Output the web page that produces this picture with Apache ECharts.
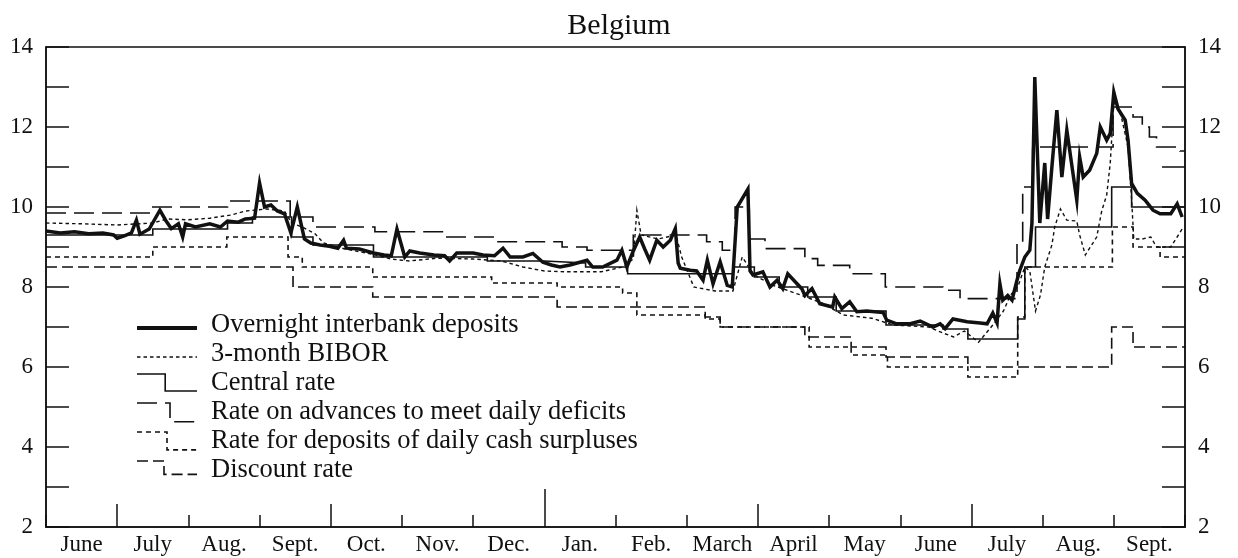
<!DOCTYPE html>
<html>
<head>
<meta charset="utf-8">
<script src="https://cdn.jsdelivr.net/npm/echarts@6/dist/echarts.min.js"></script>
<style>
  html, body { margin: 0; padding: 0; background: #fff; }
  #chart { width: 1238px; height: 558px; }
</style>
</head>
<body>
<div id="chart"></div>
<script>
// Month labels, June 1992 to September 1993
const months = ['June', 'July', 'Aug.', 'Sept.', 'Oct.', 'Nov.', 'Dec.', 'Jan.', 'Feb.', 'March', 'April', 'May', 'June', 'July', 'Aug.', 'Sept.'];
// Month boundaries that get longer ticks (quarters) and the year boundary
const quarterTicks = [1, 4, 10, 13];
const yearTicks = [7];

// Every x value below is months elapsed since 1 June 1992; y values are percent.
const overnight = [
  [0, 9.4], [0.2, 9.35], [0.4, 9.38], [0.6, 9.33], [0.8, 9.35], [0.95, 9.3], [1.0, 9.22], [1.1, 9.28],
  [1.2, 9.35], [1.27, 9.67], [1.32, 9.32], [1.45, 9.45], [1.6, 9.92], [1.68, 9.67], [1.76, 9.46],
  [1.86, 9.58], [1.92, 9.25], [1.96, 9.58], [2.1, 9.5], [2.3, 9.58], [2.45, 9.5], [2.55, 9.65],
  [2.7, 9.62], [2.8, 9.7], [2.93, 9.72], [3.0, 10.6], [3.07, 10.0], [3.16, 10.05], [3.25, 9.9],
  [3.35, 9.83], [3.44, 9.35], [3.53, 10.0], [3.63, 9.2], [3.72, 9.1], [3.85, 9.05], [3.98, 9.02],
  [4.1, 8.97], [4.18, 9.17], [4.22, 8.97], [4.4, 8.95], [4.6, 8.85], [4.75, 8.8], [4.85, 8.78],
  [4.93, 9.45], [5.04, 8.75], [5.11, 8.9], [5.25, 8.85], [5.45, 8.8], [5.6, 8.78], [5.67, 8.65],
  [5.77, 8.85], [6.0, 8.85], [6.14, 8.8], [6.3, 8.78], [6.42, 8.97], [6.52, 8.75], [6.7, 8.75],
  [6.84, 8.84], [6.98, 8.62], [7.1, 8.55], [7.22, 8.5], [7.36, 8.55], [7.6, 8.67], [7.68, 8.5],
  [7.82, 8.5], [8.02, 8.67], [8.09, 8.92], [8.16, 8.5], [8.25, 8.9], [8.34, 9.25], [8.41, 8.95],
  [8.48, 8.67], [8.58, 9.17], [8.67, 9.0], [8.77, 9.17], [8.84, 9.46], [8.88, 8.6], [8.91, 8.47],
  [9.05, 8.42], [9.14, 8.4], [9.23, 8.17], [9.29, 8.67], [9.37, 8.08], [9.47, 8.63], [9.57, 8.04],
  [9.64, 8.0], [9.71, 10.0], [9.86, 10.45], [9.89, 8.4], [9.93, 8.3], [10.07, 8.38], [10.17, 8.0],
  [10.27, 8.17], [10.35, 7.96], [10.42, 8.33], [10.55, 8.08], [10.62, 7.95], [10.66, 7.79],
  [10.76, 7.96], [10.87, 7.58], [11.05, 7.5], [11.08, 7.75], [11.18, 7.46], [11.29, 7.63],
  [11.39, 7.38], [11.53, 7.4], [11.76, 7.36], [11.81, 7.17], [11.95, 7.08], [12.14, 7.08],
  [12.28, 7.15], [12.46, 7.0], [12.56, 7.08], [12.63, 6.96], [12.74, 7.2], [12.94, 7.13],
  [13.12, 7.1], [13.22, 7.08], [13.3, 7.35], [13.36, 7.1], [13.4, 8.08], [13.44, 7.67], [13.51, 7.79],
  [13.57, 7.67], [13.64, 8.17], [13.68, 8.42], [13.75, 8.75], [13.82, 8.92], [13.85, 9.6],
  [13.89, 13.25], [13.96, 9.6], [14.03, 11.1], [14.07, 9.7], [14.13, 11.0], [14.2, 12.42],
  [14.27, 10.75], [14.34, 11.92], [14.48, 10.17], [14.52, 11.25], [14.57, 10.75], [14.66, 10.92],
  [14.76, 11.34], [14.81, 12.0], [14.9, 11.67], [14.95, 11.84], [15.0, 12.87], [15.06, 12.45],
  [15.16, 12.17], [15.2, 11.67], [15.25, 10.59], [15.33, 10.34], [15.44, 10.17], [15.55, 9.92],
  [15.65, 9.83], [15.8, 9.83], [15.89, 10.08], [15.96, 9.75]
];

const bibor = [
  [0, 9.6], [0.5, 9.58], [1.0, 9.55], [1.5, 9.6], [1.7, 9.7], [2.0, 9.68], [2.3, 9.72], [2.6, 9.8],
  [2.8, 9.9], [3.1, 9.95], [3.35, 9.9], [3.45, 9.6], [3.6, 9.5], [3.78, 9.33], [3.9, 9.1], [4.2, 8.95],
  [4.5, 8.85], [4.85, 8.7], [5.1, 8.65], [5.5, 8.72], [6.0, 8.7], [6.4, 8.65], [6.7, 8.5], [7.0, 8.4],
  [7.3, 8.38], [7.8, 8.38], [8.1, 8.5], [8.25, 8.7], [8.3, 9.92], [8.36, 9.3], [8.6, 9.2], [8.85, 9.3],
  [8.93, 8.75], [9.1, 8.0], [9.4, 7.9], [9.65, 7.9], [9.78, 8.75], [9.95, 8.3], [10.2, 8.05],
  [10.6, 7.8], [10.9, 7.6], [11.2, 7.3], [11.6, 7.22], [11.9, 7.05], [12.4, 7.0], [12.6, 6.85],
  [12.75, 6.75], [12.9, 6.9], [13.1, 6.62], [13.3, 7.05], [13.45, 7.4], [13.55, 7.8], [13.65, 8.0],
  [13.75, 8.5], [13.82, 8.4], [13.9, 7.4], [13.97, 7.8], [14.03, 8.5], [14.13, 9.05], [14.17, 9.5],
  [14.25, 9.95], [14.34, 9.67], [14.48, 9.65], [14.52, 9.3], [14.6, 8.8], [14.76, 9.25], [14.83, 9.9],
  [14.9, 10.3], [14.95, 11.1], [15.0, 12.6], [15.1, 12.3], [15.2, 11.5], [15.25, 10.2], [15.28, 9.2],
  [15.4, 9.2], [15.52, 9.25], [15.6, 9.0], [15.8, 9.0], [15.89, 9.25], [15.96, 9.45]
];

// Official rates: each value holds until the next change
const centralRate = [
  [0, 9.3], [1.5, 9.45], [2.55, 9.6], [2.9, 9.75], [3.45, 9.25], [3.75, 9.05], [4.6, 8.75],
  [6.2, 8.65], [7.0, 8.6], [7.58, 8.5], [8.17, 8.33], [9.65, 8.5], [9.95, 8.25], [10.3, 8.0],
  [10.7, 7.75], [11.1, 7.4], [11.8, 7.05], [12.6, 6.95], [12.95, 6.7], [13.65, 7.2], [13.75, 8.5],
  [13.9, 9.5], [14.97, 10.5], [15.25, 10.0], [16, 10.0]
];

const advancesRate = [
  [0, 9.85], [1.5, 10.0], [2.55, 10.15], [3.43, 9.75], [3.75, 9.5], [4.62, 9.38], [5.6, 9.25],
  [6.3, 9.13], [7.25, 9.0], [7.6, 8.92], [8.25, 9.3], [9.28, 9.13], [9.5, 8.92], [9.68, 10.0],
  [9.88, 9.2], [10.1, 8.96], [10.66, 8.71], [10.84, 8.54], [11.29, 8.33], [11.79, 8.0], [12.6, 7.92],
  [12.84, 7.71], [13.64, 9.1], [13.72, 10.5], [13.86, 11.5], [14.99, 12.5], [15.27, 12.25],
  [15.4, 12.0], [15.5, 11.75], [15.6, 11.5], [15.93, 11.4], [16, 11.4]
];

const depositsRate = [
  [0, 8.75], [1.5, 9.0], [2.54, 9.25], [3.4, 8.75], [3.6, 8.5], [4.59, 8.25], [6.26, 8.1],
  [7.18, 8.0], [8.1, 7.85], [8.3, 7.3], [9.26, 7.2], [9.47, 7.0], [10.72, 6.5], [11.31, 6.3],
  [11.82, 6.0], [12.95, 5.75], [13.65, 7.25], [13.75, 8.5], [14.98, 9.5], [15.27, 9.0],
  [15.65, 8.75], [16, 8.75]
];

const discountRate = [
  [0, 8.5], [3.47, 8.0], [4.59, 7.75], [7.18, 7.5], [9.26, 7.25], [9.47, 7.0], [10.66, 6.75],
  [11.31, 6.5], [11.8, 6.25], [12.95, 6.0], [14.97, 7.0], [15.27, 6.5], [16, 6.5]
];

const INK = '#111';
const FONT = 'Liberation Serif';

const seriesStyles = [
  { name: 'Overnight interbank deposits', data: overnight, width: 3.5, dash: 'solid', step: false, icon: 'line' },
  { name: '3-month BIBOR', data: bibor, width: 1.4, dash: [3.5, 3], step: false, icon: 'line' },
  { name: 'Central rate', data: centralRate, width: 1.6, dash: 'solid', step: 'end', icon: [0.47, 0.5] },
  { name: 'Rate on advances to meet daily deficits', data: advancesRate, width: 1.6, dash: [20, 8], step: 'end', icon: [0.55, 0.6] },
  { name: 'Rate for deposits of daily cash surpluses', data: depositsRate, width: 1.6, dash: [5, 4], step: 'end', icon: [0.5, 0.55] },
  { name: 'Discount rate', data: discountRate, width: 1.6, dash: [11, 5], step: 'end', icon: [0.45, 0.3] }
];

// Hand-built key inside the plot area
const legendLeft = 137, legendIconW = 60, legendTextX = 211, legendTop = 325, legendGap = 29;
const legendGraphics = [];
seriesStyles.forEach(function (s, i) {
  const yc = legendTop + i * legendGap;
  let pts;
  if (s.icon === 'line') {
    pts = [[legendLeft, yc + 3], [legendLeft + legendIconW, yc + 3]];
  } else {
    const turnX = legendLeft + legendIconW * s.icon[0];
    const h = 18 * s.icon[1] + 8;
    const top = yc - 9, bot = top + h;
    pts = [[legendLeft, top], [turnX, top], [turnX, bot], [legendLeft + legendIconW, bot]];
  }
  legendGraphics.push({
    type: 'polyline',
    shape: { points: pts },
    style: { stroke: INK, lineWidth: s.icon === 'line' && i === 0 ? 4 : 1.6, lineDash: s.dash === 'solid' ? null : s.dash, fill: null },
    silent: true
  });
  legendGraphics.push({
    type: 'text',
    x: legendTextX, y: yc,
    style: { text: s.name, fontFamily: FONT, fontSize: 26.5, fill: INK, verticalAlign: 'middle', align: 'left' },
    silent: true
  });
});

const chart = echarts.init(document.getElementById('chart'), null, { renderer: 'canvas' });

const baseX = { type: 'value', min: 0, max: 16, gridIndex: 0, position: 'bottom', splitLine: { show: false } };
const axisLineOff = { show: false, onZero: false };

chart.setOption({
  animation: false,
  backgroundColor: '#fff',
  title: {
    text: 'Belgium', left: 'center', top: 6,
    textStyle: { fontFamily: FONT, fontSize: 30, fontWeight: 'normal', color: INK }
  },
  grid: { left: 46, right: 53, top: 47, bottom: 31, show: true, borderColor: INK, borderWidth: 1.5, backgroundColor: 'transparent' },
  xAxis: [
    Object.assign({}, baseX, {
      interval: 1,
      axisLine: { show: true, onZero: false, lineStyle: { color: INK, width: 1.5 } },
      axisTick: { show: true, inside: true, length: 12, lineStyle: { color: INK, width: 1.5 } },
      axisLabel: { show: false }
    }),
    Object.assign({}, baseX, {
      axisLine: axisLineOff,
      axisTick: { show: true, inside: true, length: 23, customValues: quarterTicks, lineStyle: { color: INK, width: 1.5 } },
      axisLabel: { show: false }
    }),
    Object.assign({}, baseX, {
      axisLine: axisLineOff,
      axisTick: { show: true, inside: true, length: 38, customValues: yearTicks, lineStyle: { color: INK, width: 1.5 } },
      axisLabel: { show: false }
    }),
    Object.assign({}, baseX, {
      axisLine: axisLineOff,
      axisTick: { show: false },
      axisLabel: {
        show: true, margin: 6, fontFamily: FONT, fontSize: 23, color: INK,
        customValues: months.map(function (m, i) { return i + 0.5; }),
        formatter: function (v) { return months[Math.floor(v)] || ''; }
      }
    })
  ],
  yAxis: ['left', 'right'].map(function (pos) {
    return {
      type: 'value', min: 2, max: 14, interval: 1, position: pos,
      splitLine: { show: false },
      axisLine: { show: true, onZero: false, lineStyle: { color: INK, width: 1.5 } },
      axisTick: { show: true, inside: true, length: 23, lineStyle: { color: INK, width: 1.5 } },
      axisLabel: {
        margin: 13, fontFamily: FONT, fontSize: 23, color: INK,
        formatter: function (v) { return v % 2 === 0 ? String(v) : ''; }
      }
    };
  }),
  series: seriesStyles.slice().reverse().map(function (s) {
    return {
      name: s.name, type: 'line', xAxisIndex: 0, yAxisIndex: 0,
      data: s.data, step: s.step, showSymbol: false, symbol: 'none', silent: true,
      lineStyle: { color: INK, width: s.width, type: s.dash, join: 'miter', cap: 'butt' }
    };
  }),
  graphic: legendGraphics
});
</script>
</body>
</html>
